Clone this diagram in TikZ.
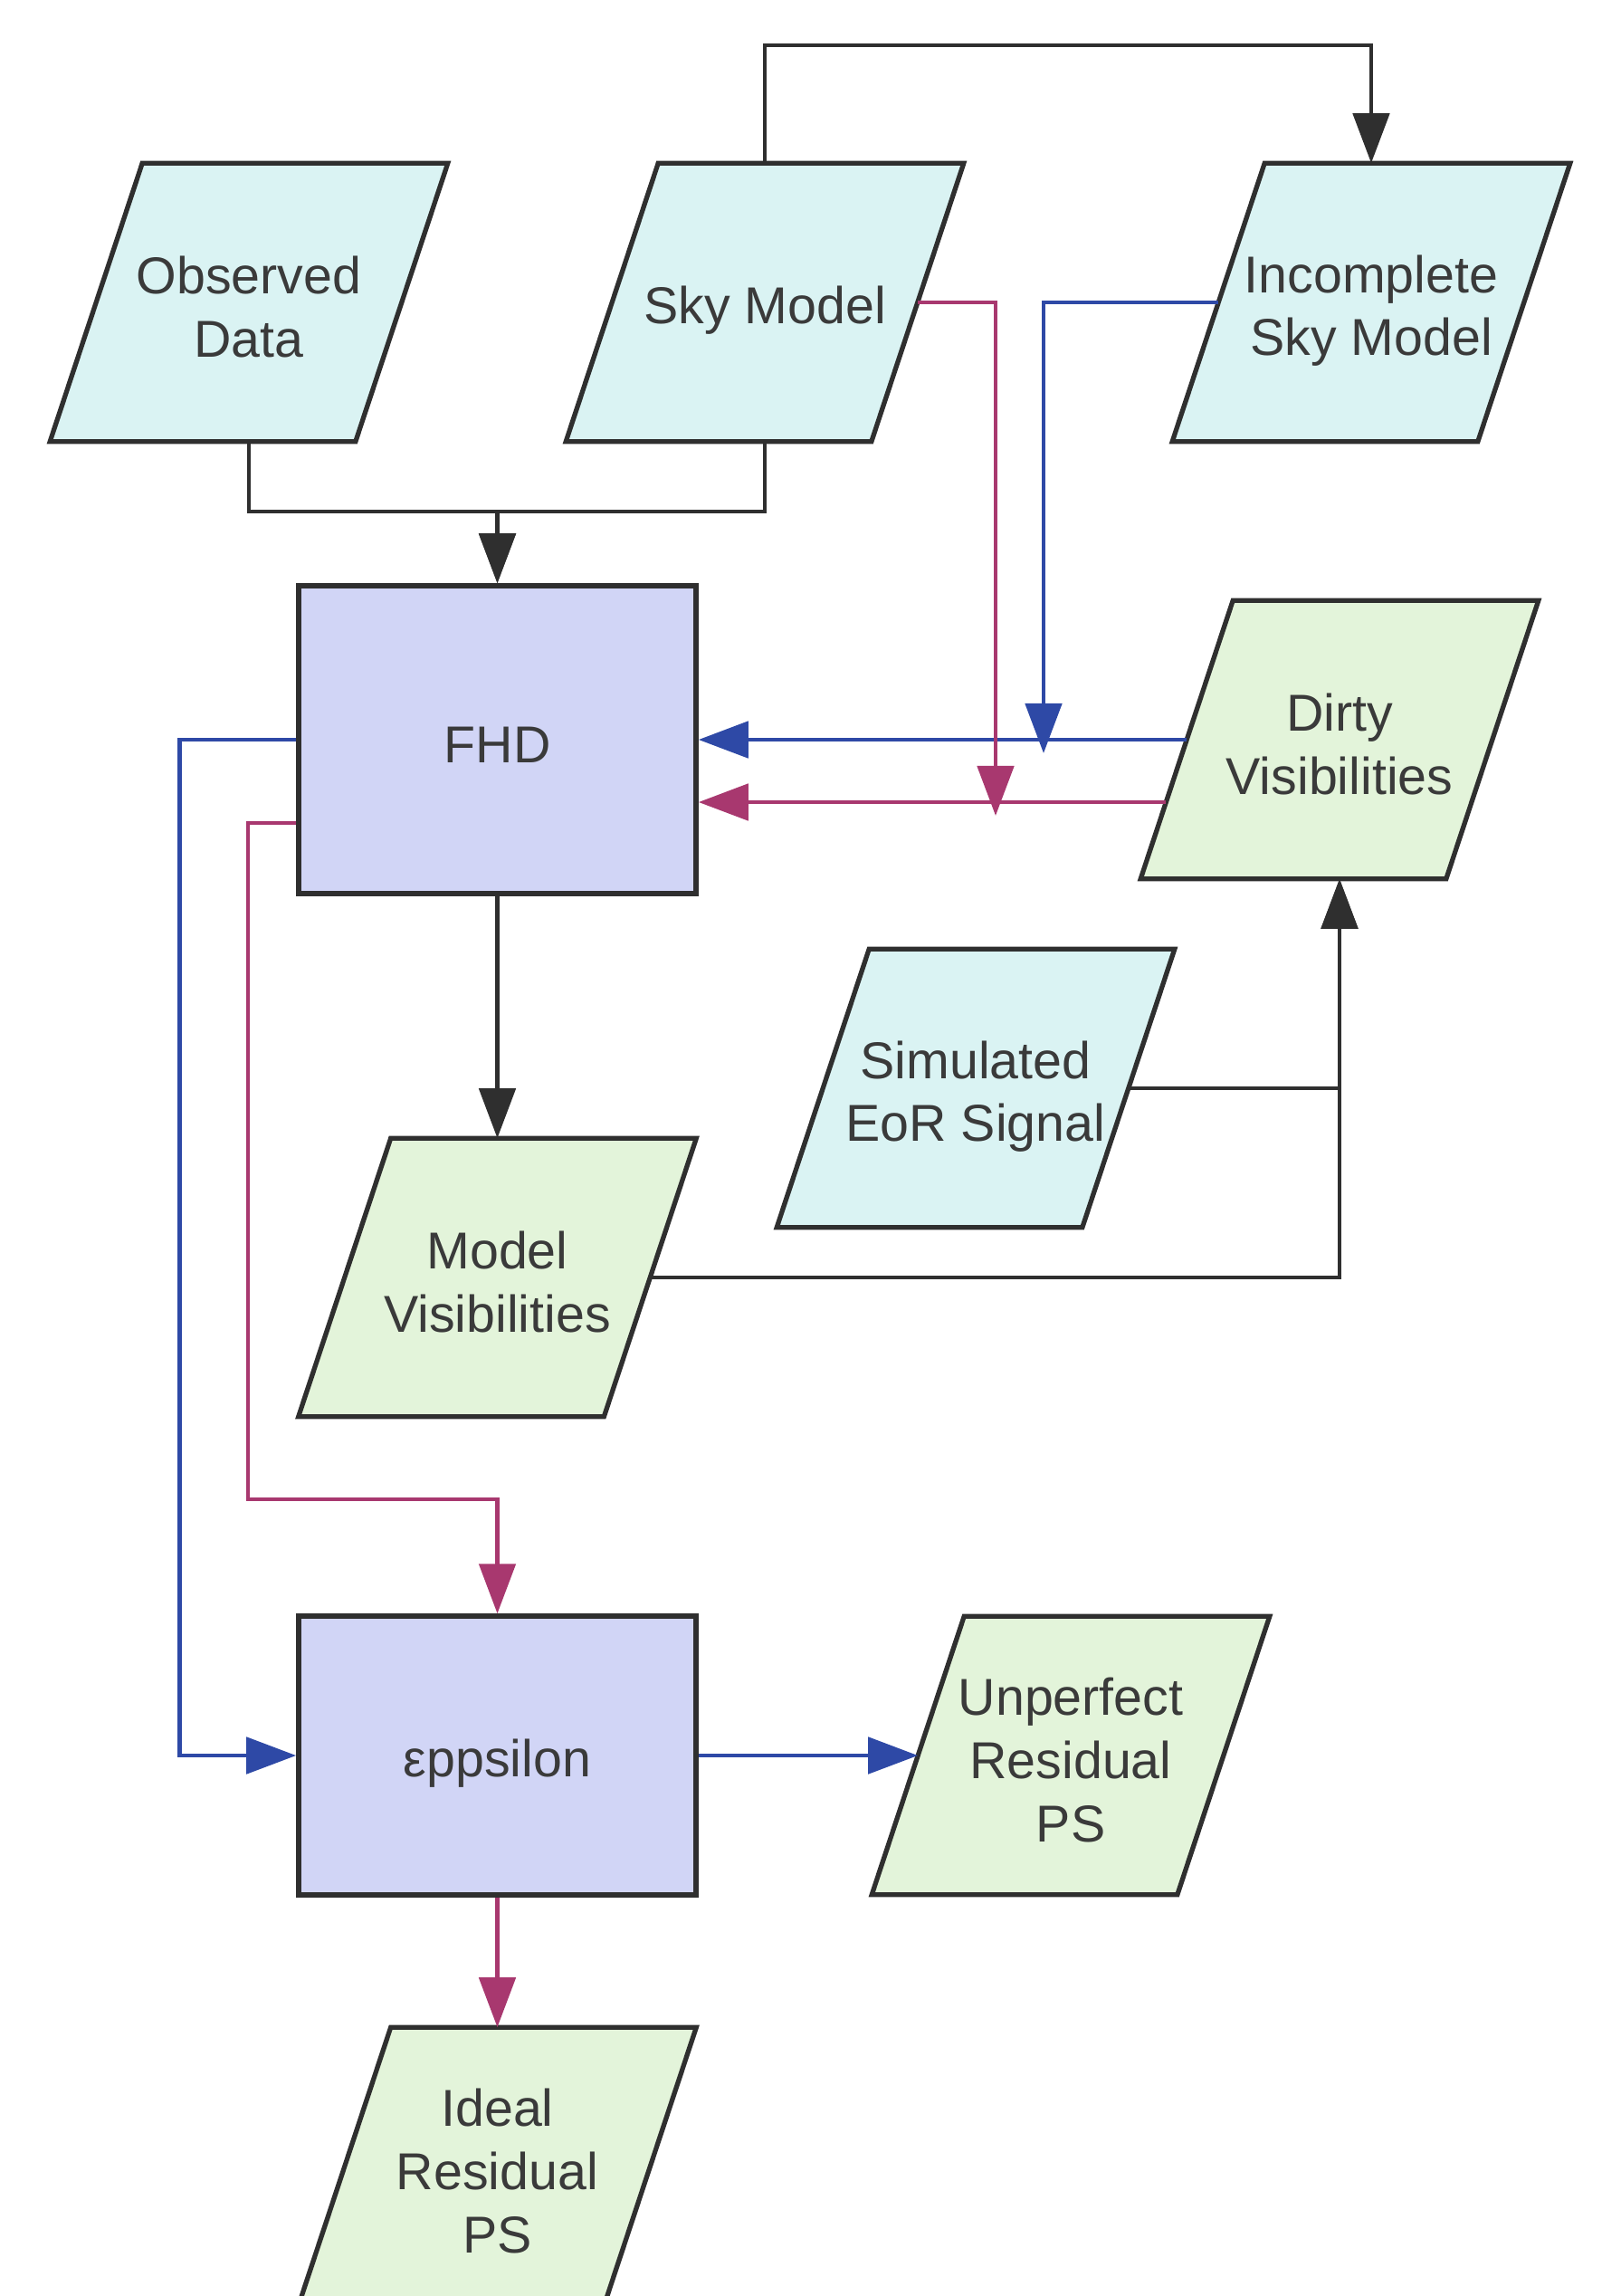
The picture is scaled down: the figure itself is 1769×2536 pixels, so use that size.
\documentclass[tikz,border=0pt]{standalone}
\usepackage{fontspec}
\setmainfont{Liberation Sans}
\usetikzlibrary{arrows.meta,calc}
\pgfdeclarelayer{background}
\pgfsetlayers{background,main}
\definecolor{incyan}{HTML}{DAF3F3}
\definecolor{outgreen}{HTML}{E3F4DA}
\definecolor{procfill}{HTML}{D1D5F6}
\definecolor{edgecol}{HTML}{2F2F2F}
\definecolor{bl}{HTML}{2E49A6}
\definecolor{rd}{HTML}{A8386F}
\definecolor{txt}{HTML}{3A3A3A}
\newcommand\mytop{\rule{0pt}{17pt}}
\newcommand\mybot{\rule[-2.5pt]{0pt}{2.5pt}}
\newcommand\drawpara[2]{%
  \path[draw=edgecol, line width=1.5pt, fill=#2, line join=miter]
   ($(#1.north west)+(51,0)$) -- ($(#1.north east)+(51,0)$) --
   ($(#1.south east)+(-51,0)$) -- ($(#1.south west)+(-51,0)$) -- cycle;}
\begin{document}
\begin{tikzpicture}[x=0.01cm,y=-0.01cm,
  every node/.style={font=\fontsize{16.3}{19.8}\selectfont, text=txt, align=center},
  para/.style={rectangle, inner sep=0pt, minimum width=3.36cm, minimum height=3.06cm},
  procbox/.style={rectangle, draw=edgecol, line width=1.5pt, fill=procfill, inner sep=0pt, minimum width=4.39cm},
  conn/.style={line width=1.4pt, draw=edgecol},
  arr/.style={conn, -{Triangle[length=0.55cm,width=0.40cm]}},
  blarr/.style={arr, draw=bl},
  rdarr/.style={arr, draw=rd}
]
\useasboundingbox (0,0) rectangle (1769,2536);

% nodes
\node[para] (obs) at (275,334) {\mytop Observed\\Data\mybot};
\node[para] (sky) at (845,334) {\mytop Sky Model\mybot};
\node[para] (inc) at (1515,334) {\mytop Incomplete\\Sky Model\mybot};
\node[procbox, minimum height=3.40cm] (fhd) at (549.5,817) {\mytop FHD\mybot};
\node[para] (dirty) at (1480,817) {\mytop Dirty\\Visibilities\mybot};
\node[para] (eor) at (1078,1202) {\mytop Simulated\\EoR Signal\mybot};
\node[para] (mv) at (549.5,1411) {\mytop Model\\Visibilities\mybot};
\node[procbox, minimum height=3.08cm] (eps) at (549.5,1939) {\mytop εppsilon\mybot};
\node[para] (up) at (1183,1939) {\mytop Unperfect\\Residual\\PS\mybot};
\node[para] (ideal) at (549.5,2393) {\mytop Ideal\\Residual\\PS\mybot};

\begin{pgfonlayer}{background}
  \drawpara{obs}{incyan}
  \drawpara{sky}{incyan}
  \drawpara{inc}{incyan}
  \drawpara{eor}{incyan}
  \drawpara{dirty}{outgreen}
  \drawpara{mv}{outgreen}
  \drawpara{up}{outgreen}
  \drawpara{ideal}{outgreen}
\end{pgfonlayer}

% helper coordinates
\coordinate (ytop) at (0,50);
\coordinate (j1) at (549.5,565);
\coordinate (rtip) at (1100,901);
\coordinate (btip) at (1153,832);
\coordinate (dr) at ($(dirty.west)+(-23,69)$);
\coordinate (fr) at ($(fhd.west)+(0,92)$);
\coordinate (rc) at (274,1656);

% black connectors
\draw[arr] (sky.north) -- (sky.north |- ytop) -| (inc.north);
\draw[arr] (obs.south) |- (j1) -- (fhd.north);
\draw[arr] (sky.south) |- (j1) -- (fhd.north);
\draw[arr] (fhd.south) -- (mv.north);
\draw[arr] (eor.east) -| (dirty.south);
\draw[arr] (mv.east) -| (dirty.south);

% blue connectors
\draw[blarr] (inc.west) -| (btip);
\draw[blarr] (dirty.west) -- (fhd.east);
\draw[blarr] (fhd.west) -- ++(-129,0) |- (eps.west);
\draw[blarr] (eps.east) -- (up.west);

% red connectors
\draw[rdarr] (sky.east) -| (rtip);
\draw[rdarr] (dr) -- (fhd.east |- dr);
\draw[rdarr] (fr) -| (rc) -| (eps.north);
\draw[rdarr] (eps.south) -- (ideal.north);
\end{tikzpicture}
\end{document}
